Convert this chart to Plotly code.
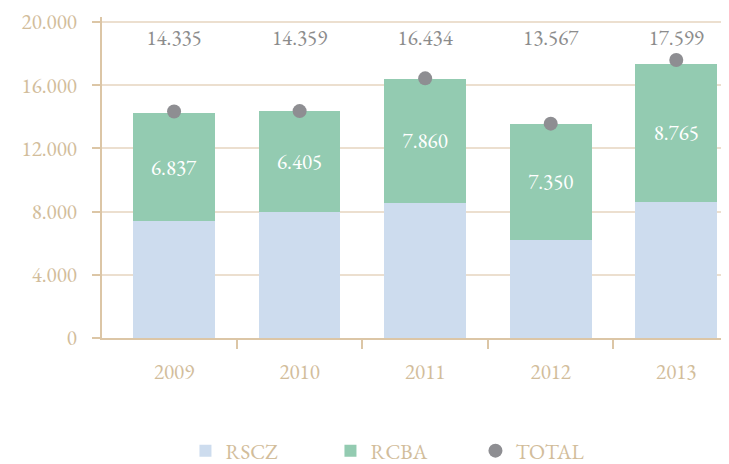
import plotly.graph_objects as go

years = ["2009", "2010", "2011", "2012", "2013"]
total = [14335, 14359, 16434, 13567, 17599]
rcba = [6837, 6405, 7860, 7350, 8765]
rscz = [7380, 7970, 8560, 6220, 8600]
ytick_vals = [0, 4000, 8000, 12000, 16000, 20000]
ytick_text = ["0", "4.000", "8.000", "12.000", "16.000", "20.000"]

def fmt(v):
    return f"{v:,}".replace(",", ".")

FONT = "EB Garamond, Garamond, Liberation Serif, serif"
BEIGE = "#d2bd9b"
GRAY = "#8e8e92"
FS = 21
xs = list(range(len(years)))

fig = go.Figure()
fig.add_trace(go.Bar(x=xs, y=rscz, name="RSCZ", marker=dict(color="#cddcee", line=dict(width=0)),
                     width=0.65))
fig.add_trace(go.Bar(x=xs, y=rcba, name="RCBA", marker=dict(color="#93cbb1", line=dict(width=0)),
                     width=0.65, text=[fmt(v) for v in rcba], textposition="inside",
                     insidetextanchor="middle",
                     textfont=dict(color="white", size=FS, family=FONT)))
fig.add_trace(go.Scatter(x=xs, y=total, name="TOTAL", mode="markers",
                         marker=dict(color=GRAY, size=14)))
fig.add_trace(go.Scatter(x=xs, y=[18880] * len(xs), mode="text", showlegend=False,
                         text=[fmt(v) for v in total],
                         textfont=dict(color="#8c8c8c", size=FS, family=FONT)))

fig.update_layout(
    barmode="stack",
    width=721, height=456,
    margin=dict(l=94, r=0, t=9, b=126, autoexpand=False),
    paper_bgcolor="white", plot_bgcolor="white",
    font=dict(family=FONT, color=BEIGE, size=FS),
    showlegend=True,
    legend=dict(orientation="h", x=0.48, xanchor="center", y=-0.352, yanchor="middle",
                font=dict(size=FS, color=BEIGE, family=FONT),
                entrywidth=100, traceorder="normal"),
    xaxis=dict(range=[-0.574, 4.42], tickmode="array", tickvals=xs, ticktext=years,
               ticks="", showgrid=False, zeroline=False, automargin=False,
               showline=True, linecolor="#dcc6a6", linewidth=2,
               ticklabelstandoff=14,
               tickfont=dict(size=FS, color=BEIGE, family=FONT),
               minor=dict(tickmode="array", tickvals=[0.5, 1.5, 2.5, 3.5], ticks="outside",
                          ticklen=9, tickcolor="#dcc6a6", tickwidth=2, showgrid=False)),
    yaxis=dict(range=[0, 20316], tickmode="array", tickvals=ytick_vals, ticktext=ytick_text,
               ticks="outside", ticklen=8, tickcolor="#dcc6a6", tickwidth=2,
               showgrid=True, gridcolor="#ecdfcf", gridwidth=2, zeroline=False,
               showline=True, linecolor="#dcc6a6", linewidth=2, automargin=False,
               ticklabelstandoff=11,
               tickfont=dict(size=FS, color=BEIGE, family=FONT)),
)

fig.write_html("out.html")
